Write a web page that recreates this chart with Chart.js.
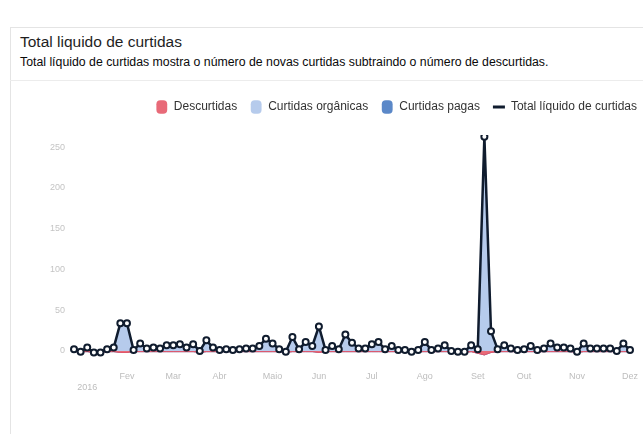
<!DOCTYPE html>
<html>
<head>
<meta charset="utf-8">
<script src="https://cdn.jsdelivr.net/npm/chart.js@4/dist/chart.umd.min.js"></script>
<style>
  html, body { margin: 0; padding: 0; background: #fff; }
  body { width: 643px; height: 434px; position: relative; overflow: hidden; font-family: "Liberation Sans", Arial, sans-serif; }
  .card { position: absolute; left: 10px; top: 27px; width: 660px; height: 420px; border: 1px solid #e4e4e4; }
  .head { position: absolute; left: 10px; top: 27px; width: 660px; height: 53px; border-bottom: 1px solid #ececec; }
  .title { position: absolute; left: 20px; top: 33px; font-size: 15.5px; color: #1e1e1e; }
  .sub { position: absolute; left: 20px; top: 55px; font-size: 12.3px; color: #0a0a0a; }
  .wrap { position: absolute; left: 10px; top: 82px; width: 650px; height: 325px; }
</style>
</head>
<body>
<div class="card"></div>
<div class="head"></div>
<div class="title">Total liquido de curtidas</div>
<div class="sub">Total líquido de curtidas mostra o número de novas curtidas subtraindo o número de descurtidas.</div>
<div class="wrap"><canvas id="chartCurtidas"></canvas></div>
<script>
// month tick labels and where they sit along the 85 data points
const monthNames = ['Fev', 'Mar', 'Abr', 'Maio', 'Jun', 'Jul', 'Ago', 'Set', 'Out', 'Nov', 'Dez'];
const monthIndex = [8, 15, 22, 30, 37, 45, 53, 61, 68, 76, 84];
const yearLabel = '2016';
const yearIndex = 2;
const yTicks = [0, 50, 100, 150, 200, 250];

const totalLiquido = [
  2, -1, 4, -2, -2, 2, 4, 34, 34, 1, 9, 3, 4, 3,
  7, 7, 8, 4, 8, 0, 13, 4, 1, 2, 1, 2, 3, 3, 6,
  15, 9, 2, -1, 17, 2, 11, 6, 30, 1, 6, 2, 20, 10,
  3, 3, 8, 11, 2, 6, 1, 1, -1, 1, 11, 1, 3, 7,
  0, -1, -1, 7, 2, 263, 24, 2, 7, 3, 1, 2, 6, 1, 3,
  9, 4, 4, 3, -1, 9, 3, 3, 3, 3, 0, 9, 1
];
const descurtidas = [
  -1, -1, -1, -2, -2, -1, -1, -2, -2, -1, -1, -1, -1, -1,
  -1, -1, -1, -1, -1, -2, -1, -1, -1, -1, -1, -1, -1, -1, -1,
  -1, -1, -1, -2, -1, -1, -1, -1, -2, -1, -1, -1, -1, -1,
  -1, -1, -1, -1, -1, -1, -1, -1, -2, -1, -1, -1, -1, -1,
  -1, -2, -2, -1, -3, -5, -2, -1, -1, -1, -1, -1, -1, -1, -1,
  -1, -1, -1, -1, -2, -1, -1, -1, -1, -1, -1, -1, -1
];
const organicas = [
  3, 0, 5, 0, 0, 3, 5, 36, 36, 2, 10, 4, 5, 4,
  8, 8, 9, 5, 9, 2, 14, 5, 2, 3, 2, 3, 4, 4, 7,
  16, 10, 3, 1, 18, 3, 12, 7, 32, 2, 7, 3, 21, 11,
  4, 4, 9, 12, 3, 7, 2, 2, 1, 2, 12, 2, 4, 8,
  1, 1, 1, 8, 5, 268, 26, 3, 8, 4, 2, 3, 7, 2, 4,
  10, 5, 5, 4, 1, 10, 4, 4, 4, 4, 1, 10, 2
];
const pagas = [
  0, 0, 0, 0, 0, 0, 0, 0, 0, 0, 0, 0, 0, 0,
  0, 0, 0, 0, 0, 0, 0, 0, 0, 0, 0, 0, 0, 0, 0,
  0, 0, 0, 0, 0, 0, 0, 0, 0, 0, 0, 0, 0, 0,
  0, 0, 0, 0, 0, 0, 0, 0, 0, 0, 0, 0, 0, 0,
  0, 0, 0, 0, 0, 0, 0, 0, 0, 0, 0, 0, 0, 0, 0,
  0, 0, 0, 0, 0, 0, 0, 0, 0, 0, 0, 0, 0
];

const labels = totalLiquido.map(() => '');
monthIndex.forEach((i, k) => { labels[i] = monthNames[k]; });
labels[yearIndex] = ['', yearLabel];

// a bit more room under the legend
const legendGap = {
  id: 'legendGap',
  beforeInit(chart) {
    const fit = chart.legend.fit;
    chart.legend.fit = function () {
      fit.call(this);
      this.height += 12;
    };
  }
};

const ctx = document.getElementById('chartCurtidas').getContext('2d');
new Chart(ctx, {
  type: 'line',
  data: {
    labels,
    datasets: [
      {
        label: 'Descurtidas',
        data: descurtidas,
        backgroundColor: '#e86a78',
        borderColor: '#e0566a',
        borderWidth: 1,
        pointRadius: 0,
        fill: 'origin',
        stack: 'areas',
        order: 1,
        tension: 0
      },
      {
        label: 'Curtidas orgânicas',
        data: organicas,
        backgroundColor: '#b6cbec',
        borderColor: '#a9c1e8',
        borderWidth: 1,
        pointRadius: 0,
        fill: 'origin',
        stack: 'areas',
        order: 1,
        tension: 0
      },
      {
        label: 'Curtidas pagas',
        data: pagas,
        backgroundColor: '#5b88c8',
        borderColor: '#5b88c8',
        borderWidth: 1,
        pointRadius: 0,
        fill: '-1',
        stack: 'areas',
        order: 1,
        tension: 0
      },
      {
        label: 'Total líquido de curtidas',
        data: totalLiquido,
        borderColor: '#101c2e',
        backgroundColor: '#101c2e',
        borderWidth: 2.5,
        pointRadius: 3,
        pointBorderWidth: 2,
        pointBackgroundColor: '#ffffff',
        pointBorderColor: '#101c2e',
        fill: false,
        stack: 'total',
        order: 0,
        tension: 0
      }
    ]
  },
  plugins: [legendGap],
  options: {
    responsive: true,
    maintainAspectRatio: false,
    animation: false,
    layout: { padding: { top: 6, right: 10, left: 0, bottom: 0 } },
    scales: {
      x: {
        grid: { display: false, drawTicks: false },
        border: { display: false },
        ticks: {
          autoSkip: false,
          maxRotation: 0,
          padding: 14,
          color: '#bdbdbd',
          font: { family: 'Liberation Sans', size: 9 }
        }
      },
      y: {
        stacked: true,
        min: -8,
        max: 265,
        afterFit: s => { s.width = 64; },
        afterBuildTicks: s => { s.ticks = yTicks.map(v => ({ value: v })); },
        grid: { display: false, drawTicks: false },
        border: { display: false },
        ticks: {
          padding: 9,
          color: '#c4c4c4',
          font: { family: 'Liberation Sans', size: 9 }
        }
      },
      yRight: {
        position: 'right',
        afterFit: s => { s.width = 20; },
        grid: { display: false, drawTicks: false },
        border: { display: false },
        ticks: { display: false }
      }
    },
    plugins: {
      legend: {
        position: 'top',
        align: 'end',
        labels: {
          boxWidth: 11,
          boxHeight: 11,
          padding: 13,
          color: '#333',
          font: { family: 'Liberation Sans', size: 12 },
          sort: (a, b) => a.datasetIndex - b.datasetIndex,
          generateLabels: chart => {
            const items = Chart.defaults.plugins.legend.labels.generateLabels(chart);
            return items.map(it => {
              if (it.datasetIndex === 3) {
                it.pointStyle = 'line';
                it.lineWidth = 3;
                it.strokeStyle = '#101c2e';
              } else {
                it.pointStyle = 'rectRounded';
                it.lineWidth = 0;
              }
              return it;
            });
          },
          usePointStyle: true,
          pointStyleWidth: 12
        }
      },
      tooltip: { enabled: false }
    }
  }
});
</script>
</body>
</html>
